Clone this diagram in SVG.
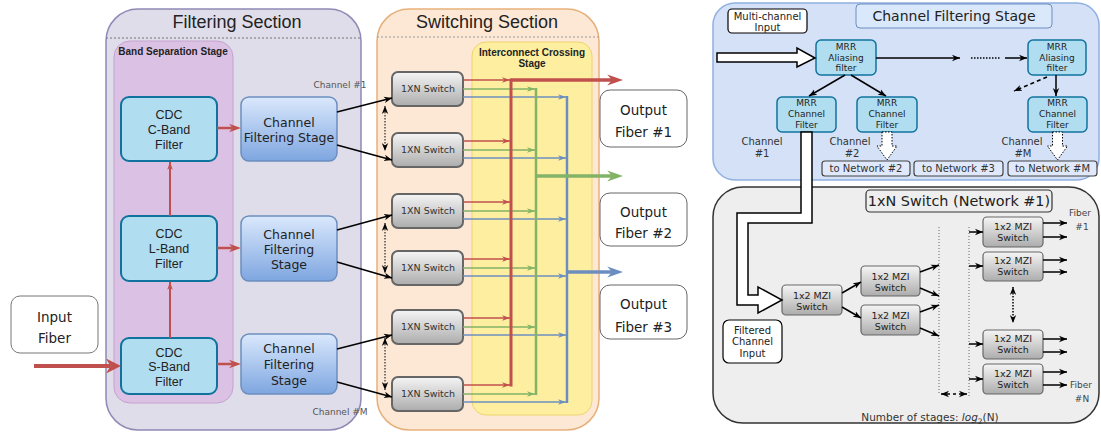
<svg xmlns="http://www.w3.org/2000/svg" width="1101" height="432" viewBox="0 0 1101 432">
<defs>
<linearGradient id="gBlue" x1="0" y1="0" x2="0" y2="1"><stop offset="0" stop-color="#dae8fc"/><stop offset="1" stop-color="#7ea6e0"/></linearGradient>
<linearGradient id="gGray" x1="0" y1="0" x2="0" y2="1"><stop offset="0" stop-color="#f5f5f5"/><stop offset="1" stop-color="#acacac"/></linearGradient>
<marker id="mk" viewBox="0 0 10 10" refX="10" refY="5" markerWidth="8" markerHeight="8" markerUnits="userSpaceOnUse" orient="auto-start-reverse"><path d="M0,1 L10,5 L0,9 L3,5Z" fill="#000"/></marker>
<marker id="mr" viewBox="0 0 10 10" refX="10" refY="5" markerWidth="8" markerHeight="8" markerUnits="userSpaceOnUse" orient="auto"><path d="M0,1.5 L10,5 L0,8.5 L3,5Z" fill="#c0504d"/></marker>
<marker id="mg" viewBox="0 0 10 10" refX="10" refY="5" markerWidth="8" markerHeight="8" markerUnits="userSpaceOnUse" orient="auto"><path d="M0,1.5 L10,5 L0,8.5 L3,5Z" fill="#82b366"/></marker>
<marker id="mb" viewBox="0 0 10 10" refX="10" refY="5" markerWidth="8" markerHeight="8" markerUnits="userSpaceOnUse" orient="auto"><path d="M0,1.5 L10,5 L0,8.5 L3,5Z" fill="#6c8ebf"/></marker>
<marker id="mrM" viewBox="0 0 10 10" refX="3" refY="5" markerWidth="12" markerHeight="12" markerUnits="userSpaceOnUse" orient="auto"><path d="M0,1.5 L10,5 L0,8.5 L3,5Z" fill="#c0504d"/></marker>
<marker id="mrL" viewBox="0 0 10 10" refX="3" refY="5" markerWidth="15" markerHeight="15" markerUnits="userSpaceOnUse" orient="auto"><path d="M0,0 L10,5 L0,10 L3,5Z" fill="#c0504d"/></marker>
<marker id="mrO" viewBox="0 0 10 10" refX="3" refY="5" markerWidth="16" markerHeight="16" markerUnits="userSpaceOnUse" orient="auto"><path d="M0,1.5 L10,5 L0,8.5 L3,5Z" fill="#c0504d"/></marker>
<marker id="mgO" viewBox="0 0 10 10" refX="3" refY="5" markerWidth="16" markerHeight="16" markerUnits="userSpaceOnUse" orient="auto"><path d="M0,1.5 L10,5 L0,8.5 L3,5Z" fill="#82b366"/></marker>
<marker id="mbO" viewBox="0 0 10 10" refX="3" refY="5" markerWidth="16" markerHeight="16" markerUnits="userSpaceOnUse" orient="auto"><path d="M0,1.5 L10,5 L0,8.5 L3,5Z" fill="#6c8ebf"/></marker>
<style>
.t{font-family:"DejaVu Sans","Liberation Sans",sans-serif;fill:#222;text-anchor:middle}
.a{font-family:"Liberation Sans",Arial,sans-serif;fill:#222;text-anchor:middle}
.cdc{fill:#b1ddf0;stroke:#10739e;stroke-width:2}
.cfs{fill:url(#gBlue);stroke:#6c8ebf;stroke-width:1.5}
.sw{fill:url(#gGray);stroke:#666;stroke-width:2}
.mrr{fill:#b1ddf0;stroke:#10739e;stroke-width:1.5}
.mzi{fill:url(#gGray);stroke:#666;stroke-width:1.2}
.out{fill:#fff;stroke:#666;stroke-width:1}
.k{stroke:#000;stroke-width:1.5;fill:none}
.kd{stroke:#000;stroke-width:1;fill:none;stroke-dasharray:1.5 1.5}
.rl{stroke:#c0504d;stroke-width:1.5;fill:none}
.gl{stroke:#82b366;stroke-width:1.5;fill:none}
.bl{stroke:#6c8ebf;stroke-width:1.5;fill:none}
.net{fill:#dfe9fb;stroke:#444;stroke-width:1.2}
</style>
</defs>

<!-- containers -->
<g id="filtering-section">
<rect x="106" y="9" width="255" height="421" rx="32" fill="#dfdde9" stroke="#8f89b5" stroke-width="1.5"/>
<line x1="106" y1="38" x2="361" y2="38" stroke="#777" stroke-dasharray="2 2"/>
<text class="a" x="237" y="28" font-size="18">Filtering Section</text>
</g>
<g id="band-separation-stage">
<rect x="114" y="41" width="119" height="362" rx="16" fill="#dbc1e3" stroke="#c4a2d1"/>
<text class="a" x="173" y="54.5" font-size="10" font-weight="bold">Band Separation Stage</text>
</g>
<g id="switching-section">
<rect x="377" y="9" width="222" height="421" rx="32" fill="#fce8d5" stroke="#e6b07a" stroke-width="1.5"/>
<line x1="377" y1="37" x2="599" y2="37" stroke="#999" stroke-dasharray="2 2"/>
<text class="a" x="487" y="28" font-size="18">Switching Section</text>
</g>
<g id="interconnect-crossing-stage">
<rect x="472" y="42" width="120" height="373" rx="14" fill="#fdef9f" stroke="#f0d36e"/>
<text class="a" x="532" y="55.5" font-size="10" font-weight="bold">Interconnect Crossing</text>
<text class="a" x="532" y="66.5" font-size="10" font-weight="bold">Stage</text>
</g>

<!-- left nodes -->
<g id="input-fiber">
<rect x="11" y="296" width="87" height="57" rx="9" fill="#fff" stroke="#777"/>
<text class="t" x="54.5" y="322" font-size="13.5">Input</text>
<text class="t" x="54.5" y="343" font-size="13.5">Fiber</text>
</g>
<g id="cdc-c-band">
<rect class="cdc" x="121" y="97" width="96" height="64" rx="8"/>
<text class="a" x="169" y="118.5" font-size="12.5">CDC</text>
<text class="a" x="169" y="133.5" font-size="12.5">C-Band</text>
<text class="a" x="169" y="148.5" font-size="12.5">Filter</text>
</g>
<g id="cdc-l-band">
<rect class="cdc" x="121" y="216" width="96" height="65" rx="8"/>
<text class="a" x="169" y="237.5" font-size="12.5">CDC</text>
<text class="a" x="169" y="252.5" font-size="12.5">L-Band</text>
<text class="a" x="169" y="267.5" font-size="12.5">Filter</text>
</g>
<g id="cdc-s-band">
<rect class="cdc" x="121" y="338" width="96" height="56" rx="8"/>
<text class="a" x="169" y="356.5" font-size="12.5">CDC</text>
<text class="a" x="169" y="370.5" font-size="12.5">S-Band</text>
<text class="a" x="169" y="385.5" font-size="12.5">Filter</text>
</g>
<g id="cfs-1">
<rect class="cfs" x="241" y="97" width="96" height="64" rx="8"/>
<text class="t" x="289" y="126.5" font-size="12.5">Channel</text>
<text class="t" x="289" y="141.5" font-size="12.5">Filtering Stage</text>
</g>
<g id="cfs-2">
<rect class="cfs" x="241" y="216" width="96" height="65" rx="8"/>
<text class="t" x="289" y="238.5" font-size="12.5">Channel</text>
<text class="t" x="289" y="253.5" font-size="12.5">Filtering</text>
<text class="t" x="289" y="268.5" font-size="12.5">Stage</text>
</g>
<g id="cfs-3">
<rect class="cfs" x="241" y="334" width="96" height="60" rx="8"/>
<text class="t" x="289" y="352.5" font-size="12.5">Channel</text>
<text class="t" x="289" y="368.5" font-size="12.5">Filtering</text>
<text class="t" x="289" y="384.5" font-size="12.5">Stage</text>
</g>
<g id="channel-labels">
<text class="t" x="340" y="88" font-size="9" style="fill:#555">Channel #1</text>
<text class="t" x="340" y="415" font-size="9" style="fill:#555">Channel #M</text>
</g>

<g id="switches">
<rect class="sw" x="392" y="72" width="71" height="34" rx="6"/>
<text class="t" x="428" y="92.4" font-size="9.5" style="fill:#333">1XN Switch</text>
<rect class="sw" x="392" y="133" width="71" height="34" rx="6"/>
<text class="t" x="428" y="153.4" font-size="9.5" style="fill:#333">1XN Switch</text>
<rect class="sw" x="392" y="194" width="71" height="34" rx="6"/>
<text class="t" x="428" y="214.4" font-size="9.5" style="fill:#333">1XN Switch</text>
<rect class="sw" x="392" y="251" width="71" height="34" rx="6"/>
<text class="t" x="428" y="271.4" font-size="9.5" style="fill:#333">1XN Switch</text>
<rect class="sw" x="392" y="310" width="71" height="34" rx="6"/>
<text class="t" x="428" y="330.4" font-size="9.5" style="fill:#333">1XN Switch</text>
<rect class="sw" x="392" y="377" width="71" height="34" rx="6"/>
<text class="t" x="428" y="397.4" font-size="9.5" style="fill:#333">1XN Switch</text>
</g>

<g id="outputs">
<rect class="out" x="600" y="90" width="87" height="57" rx="10"/>
<text class="t" x="643.5" y="115" font-size="13.5">Output</text>
<text class="t" x="643.5" y="137" font-size="13.5">Fiber #1</text>
<rect class="out" x="600" y="193" width="87" height="53" rx="10"/>
<text class="t" x="643.5" y="217" font-size="13.5">Output</text>
<text class="t" x="643.5" y="238" font-size="13.5">Fiber #2</text>
<rect class="out" x="600" y="285" width="87" height="54" rx="10"/>
<text class="t" x="643.5" y="309" font-size="13.5">Output</text>
<text class="t" x="643.5" y="332" font-size="13.5">Fiber #3</text>
</g>

<!-- left connectors -->
<g id="connectors-left">
<line x1="34" y1="366" x2="110.5" y2="366" stroke="#c0504d" stroke-width="4" marker-end="url(#mrL)"/>
<line x1="217" y1="128" x2="232.6" y2="128" stroke="#c0504d" stroke-width="2.5" marker-end="url(#mrM)"/>
<line x1="217" y1="248" x2="232.6" y2="248" stroke="#c0504d" stroke-width="2.5" marker-end="url(#mrM)"/>
<line x1="217" y1="364" x2="232.6" y2="364" stroke="#c0504d" stroke-width="2.5" marker-end="url(#mrM)"/>
<line x1="170" y1="216" x2="170" y2="162" stroke="#c0504d" stroke-width="2" marker-end="url(#mr)"/>
<line x1="170" y1="338" x2="170" y2="282" stroke="#c0504d" stroke-width="2" marker-end="url(#mr)"/>
<line class="k" x1="337" y1="112" x2="392" y2="98" marker-end="url(#mk)"/>
<line class="k" x1="337" y1="145" x2="392" y2="160" marker-end="url(#mk)"/>
<line class="k" x1="337" y1="230" x2="392" y2="215" marker-end="url(#mk)"/>
<line class="k" x1="337" y1="262" x2="392" y2="278" marker-end="url(#mk)"/>
<line class="k" x1="337" y1="349" x2="392" y2="335" marker-end="url(#mk)"/>
<line class="k" x1="337" y1="382" x2="392" y2="397" marker-end="url(#mk)"/>
<line class="kd" x1="385" y1="106" x2="385" y2="151" marker-start="url(#mk)" marker-end="url(#mk)"/>
<line class="kd" x1="385" y1="223" x2="385" y2="273" marker-start="url(#mk)" marker-end="url(#mk)"/>
<line class="kd" x1="385" y1="338" x2="385" y2="390" marker-start="url(#mk)" marker-end="url(#mk)"/>
<!-- switch outputs -->
<line class="rl" x1="463" y1="80" x2="510" y2="80" marker-end="url(#mr)"/>
<line class="gl" x1="463" y1="89" x2="535" y2="89" marker-end="url(#mg)"/>
<line class="bl" x1="463" y1="97" x2="566" y2="97" marker-end="url(#mb)"/>
<line class="rl" x1="463" y1="141" x2="510" y2="141" marker-end="url(#mr)"/>
<line class="gl" x1="463" y1="150" x2="535" y2="150" marker-end="url(#mg)"/>
<line class="bl" x1="463" y1="158" x2="566" y2="158" marker-end="url(#mb)"/>
<line class="rl" x1="463" y1="202" x2="510" y2="202" marker-end="url(#mr)"/>
<line class="gl" x1="463" y1="211" x2="535" y2="211" marker-end="url(#mg)"/>
<line class="bl" x1="463" y1="219" x2="566" y2="219" marker-end="url(#mb)"/>
<line class="rl" x1="463" y1="259" x2="510" y2="259" marker-end="url(#mr)"/>
<line class="gl" x1="463" y1="268" x2="535" y2="268" marker-end="url(#mg)"/>
<line class="bl" x1="463" y1="276" x2="566" y2="276" marker-end="url(#mb)"/>
<line class="rl" x1="463" y1="318" x2="510" y2="318" marker-end="url(#mr)"/>
<line class="gl" x1="463" y1="327" x2="535" y2="327" marker-end="url(#mg)"/>
<line class="bl" x1="463" y1="335" x2="566" y2="335" marker-end="url(#mb)"/>
<line class="rl" x1="463" y1="385" x2="510" y2="385" marker-end="url(#mr)"/>
<line class="gl" x1="463" y1="394" x2="535" y2="394" marker-end="url(#mg)"/>
<line class="bl" x1="463" y1="402" x2="566" y2="402" marker-end="url(#mb)"/>
<!-- buses -->
<line x1="511" y1="78.5" x2="511" y2="386.5" stroke="#c0504d" stroke-width="3"/>
<line x1="536" y1="88" x2="536" y2="395" stroke="#82b366" stroke-width="2.5"/>
<line x1="567" y1="96" x2="567" y2="403" stroke="#6c8ebf" stroke-width="2.5"/>
<line x1="511" y1="80" x2="612" y2="80" stroke="#c0504d" stroke-width="3.5" marker-end="url(#mrO)"/>
<line x1="536" y1="176" x2="612" y2="176" stroke="#82b366" stroke-width="3.5" marker-end="url(#mgO)"/>
<line x1="567" y1="272" x2="612" y2="272" stroke="#6c8ebf" stroke-width="3.5" marker-end="url(#mbO)"/>
</g>

<!-- right panel: channel filtering stage -->
<g id="channel-filtering-panel">
<rect x="713" y="3" width="386" height="177" rx="22" fill="#d4e1f7" stroke="#8fb0e0" stroke-width="1.5"/>
<rect x="856" y="4" width="196" height="24" rx="4" fill="#dae8fc" stroke="#6c8ebf"/>
<text class="t" x="954" y="21" font-size="14">Channel Filtering Stage</text>
</g>
<g id="multi-channel-input">
<rect x="728" y="9" width="79" height="24" rx="4" fill="#fff" stroke="#000" stroke-width="1.2"/>
<text class="t" x="767.5" y="19.5" font-size="10">Multi-channel</text>
<text class="t" x="767.5" y="30.5" font-size="10">Input</text>
</g>
<g id="mrr-aliasing-1">
<rect class="mrr" x="816" y="40" width="60" height="35" rx="5"/>
<text class="t" x="846" y="50.2" font-size="9">MRR</text>
<text class="t" x="846" y="61.2" font-size="9">Aliasing</text>
<text class="t" x="846" y="71.2" font-size="9">filter</text>
</g>
<g id="mrr-aliasing-m">
<rect class="mrr" x="1028" y="40" width="58" height="35" rx="5"/>
<text class="t" x="1057" y="50.2" font-size="9">MRR</text>
<text class="t" x="1057" y="61.2" font-size="9">Aliasing</text>
<text class="t" x="1057" y="71.2" font-size="9">filter</text>
</g>
<g id="mrr-channel-1">
<rect class="mrr" x="777" y="97" width="59" height="35" rx="5"/>
<text class="t" x="806.5" y="106.2" font-size="9">MRR</text>
<text class="t" x="806.5" y="117.2" font-size="9">Channel</text>
<text class="t" x="806.5" y="128.2" font-size="9">Filter</text>
</g>
<g id="mrr-channel-2">
<rect class="mrr" x="857" y="97" width="60" height="35" rx="5"/>
<text class="t" x="887" y="106.2" font-size="9">MRR</text>
<text class="t" x="887" y="117.2" font-size="9">Channel</text>
<text class="t" x="887" y="128.2" font-size="9">Filter</text>
</g>
<g id="mrr-channel-m">
<rect class="mrr" x="1028" y="97" width="59" height="35" rx="5"/>
<text class="t" x="1057.5" y="106.2" font-size="9">MRR</text>
<text class="t" x="1057.5" y="117.2" font-size="9">Channel</text>
<text class="t" x="1057.5" y="128.2" font-size="9">Filter</text>
</g>
<g id="channel-texts-right">
<text class="t" x="762" y="144.6" font-size="10" style="fill:#333">Channel</text>
<text class="t" x="762" y="156.6" font-size="10" style="fill:#333">#1</text>
<text class="t" x="850" y="144.6" font-size="10" style="fill:#333">Channel</text>
<text class="t" x="852" y="156.6" font-size="10" style="fill:#333">#2</text>
<text class="t" x="1022" y="144.6" font-size="10" style="fill:#333">Channel</text>
<text class="t" x="1023" y="156.6" font-size="10" style="fill:#333">#M</text>
</g>
<g id="to-network">
<rect class="net" x="822" y="161" width="88" height="15" rx="3"/>
<text class="t" x="866" y="172.2" font-size="10" style="fill:#333">to Network #2</text>
<rect class="net" x="914" y="161" width="89" height="15" rx="3"/>
<text class="t" x="958.5" y="172.2" font-size="10" style="fill:#333">to Network #3</text>
<rect class="net" x="1008" y="161" width="89" height="15" rx="3"/>
<text class="t" x="1052.5" y="172.2" font-size="10" style="fill:#333">to Network #M</text>
</g>

<!-- right panel: 1xN switch -->
<g id="switch-panel">
<rect x="713" y="187" width="386" height="236" rx="30" fill="#eeeeee" stroke="#333" stroke-width="1.5"/>
<rect x="866" y="190" width="186" height="22" rx="4" fill="#eeeeee" stroke="#333" stroke-width="1.2"/>
<text class="t" x="959" y="206" font-size="14.4">1xN Switch (Network #1)</text>
<line x1="939" y1="227" x2="939" y2="393" stroke="#666" stroke-dasharray="1 2"/>
<line x1="969" y1="227" x2="969" y2="397" stroke="#666" stroke-dasharray="1 2"/>
<text class="t" x="930" y="421" font-size="10.5" style="fill:#333">Number of stages: <tspan font-style="italic">log</tspan><tspan font-size="7.5" dy="3">2</tspan><tspan dy="-3">(N)</tspan></text>
<text class="t" x="1080" y="216" font-size="9" style="fill:#444">Fiber</text>
<text class="t" x="1082" y="230" font-size="9" style="fill:#444">#1</text>
<text class="t" x="1081" y="388" font-size="9" style="fill:#444">Fiber</text>
<text class="t" x="1082" y="402" font-size="9" style="fill:#444">#N</text>
</g>
<g id="filtered-channel-input">
<rect x="723" y="320" width="59" height="43" rx="6" fill="#fff" stroke="#000" stroke-width="1.2"/>
<text class="t" x="752.5" y="333.5" font-size="10">Filtered</text>
<text class="t" x="752.5" y="345" font-size="10">Channel</text>
<text class="t" x="752.5" y="356.5" font-size="10">Input</text>
</g>
<g id="mzi-stage1">
<rect class="mzi" x="782" y="285" width="60" height="30" rx="4"/>
<text class="t" x="812" y="299" font-size="9.5">1x2 MZI</text>
<text class="t" x="812" y="310" font-size="9.5">Switch</text>
</g>
<g id="mzi-stage2a">
<rect class="mzi" x="861" y="266" width="59" height="30" rx="4"/>
<text class="t" x="890.5" y="280" font-size="9.5">1x2 MZI</text>
<text class="t" x="890.5" y="291" font-size="9.5">Switch</text>
</g>
<g id="mzi-stage2b">
<rect class="mzi" x="861" y="305" width="59" height="30" rx="4"/>
<text class="t" x="890.5" y="319" font-size="9.5">1x2 MZI</text>
<text class="t" x="890.5" y="330" font-size="9.5">Switch</text>
</g>
<g id="mzi-last1">
<rect class="mzi" x="983" y="217" width="60" height="30" rx="4"/>
<text class="t" x="1013" y="229.5" font-size="9.5">1x2 MZI</text>
<text class="t" x="1013" y="240.5" font-size="9.5">Switch</text>
</g>
<g id="mzi-last2">
<rect class="mzi" x="983" y="252" width="60" height="29" rx="4"/>
<text class="t" x="1013" y="264" font-size="9.5">1x2 MZI</text>
<text class="t" x="1013" y="275" font-size="9.5">Switch</text>
</g>
<g id="mzi-last3">
<rect class="mzi" x="983" y="330" width="60" height="29" rx="4"/>
<text class="t" x="1013" y="342" font-size="9.5">1x2 MZI</text>
<text class="t" x="1013" y="353" font-size="9.5">Switch</text>
</g>
<g id="mzi-last4">
<rect class="mzi" x="983" y="364" width="60" height="30" rx="4"/>
<text class="t" x="1013" y="376.5" font-size="9.5">1x2 MZI</text>
<text class="t" x="1013" y="387.5" font-size="9.5">Switch</text>
</g>

<g id="connectors-right">
<polygon points="717,53 797,53 797,48 815,58 797,67 797,62 717,62" fill="#fff" stroke="#000" stroke-width="1.5"/>
<line class="k" x1="876" y1="58" x2="960" y2="58" marker-end="url(#mk)"/>
<line x1="971" y1="58" x2="1001" y2="58" stroke="#000" stroke-width="1.5" stroke-dasharray="1.5 1.5"/>
<line class="k" x1="1005" y1="58" x2="1027" y2="58" marker-end="url(#mk)"/>
<line class="k" x1="845" y1="75" x2="809" y2="96" marker-end="url(#mk)"/>
<line class="k" x1="851" y1="75" x2="886" y2="96" marker-end="url(#mk)"/>
<line class="k" x1="1056" y1="75" x2="1056" y2="96" marker-end="url(#mk)"/>
<line x1="1047" y1="77" x2="1014" y2="91" stroke="#000" stroke-width="1.5" stroke-dasharray="4 3" marker-end="url(#mk)"/>
<polygon points="882,132 892,132 892,146 897,146 887,160 877,146 882,146" fill="#fff" stroke="#000" stroke-width="1" stroke-dasharray="1.5 1.5"/>
<polygon points="1052.5,132 1062.5,132 1062.5,146 1067.5,146 1057.5,160 1047.5,146 1052.5,146" fill="#fff" stroke="#000" stroke-width="1" stroke-dasharray="1.5 1.5"/>
<polygon points="801,132 801,213 737,213 737,305 758,305 758,313 782,300 758,287 758,295 748,295 748,223 812,223 812,132" fill="#fff" stroke="#000" stroke-width="1.5"/>
<line class="k" x1="842" y1="293" x2="861" y2="282" marker-end="url(#mk)"/>
<line class="k" x1="842" y1="307" x2="861" y2="318" marker-end="url(#mk)"/>
<line class="k" x1="920" y1="272" x2="939" y2="265" marker-end="url(#mk)"/>
<line class="k" x1="920" y1="288" x2="939" y2="296" marker-end="url(#mk)"/>
<line class="k" x1="920" y1="312" x2="939" y2="305" marker-end="url(#mk)"/>
<line class="k" x1="920" y1="328" x2="939" y2="336" marker-end="url(#mk)"/>
<line class="k" x1="969" y1="232" x2="983" y2="232" marker-end="url(#mk)"/>
<line class="k" x1="969" y1="266" x2="983" y2="266" marker-end="url(#mk)"/>
<line class="k" x1="969" y1="344" x2="983" y2="344" marker-end="url(#mk)"/>
<line class="k" x1="969" y1="379" x2="983" y2="379" marker-end="url(#mk)"/>
<line class="k" x1="1043" y1="223" x2="1067" y2="223" marker-end="url(#mk)"/>
<line class="k" x1="1043" y1="237" x2="1067" y2="237" marker-end="url(#mk)"/>
<line class="k" x1="1043" y1="260" x2="1067" y2="260" marker-end="url(#mk)"/>
<line class="k" x1="1043" y1="272" x2="1067" y2="272" marker-end="url(#mk)"/>
<line class="k" x1="1043" y1="339" x2="1067" y2="339" marker-end="url(#mk)"/>
<line class="k" x1="1043" y1="352" x2="1067" y2="352" marker-end="url(#mk)"/>
<line class="k" x1="1043" y1="372" x2="1067" y2="372" marker-end="url(#mk)"/>
<line class="k" x1="1043" y1="385" x2="1067" y2="385" marker-end="url(#mk)"/>
<line x1="1013" y1="287" x2="1013" y2="323" stroke="#000" stroke-width="1.5" stroke-dasharray="1.5 1.5" marker-start="url(#mk)" marker-end="url(#mk)"/>
<line x1="941" y1="394" x2="967" y2="394" stroke="#000" stroke-width="1.5" stroke-dasharray="3 3" marker-start="url(#mk)" marker-end="url(#mk)"/>
</g>
</svg>
